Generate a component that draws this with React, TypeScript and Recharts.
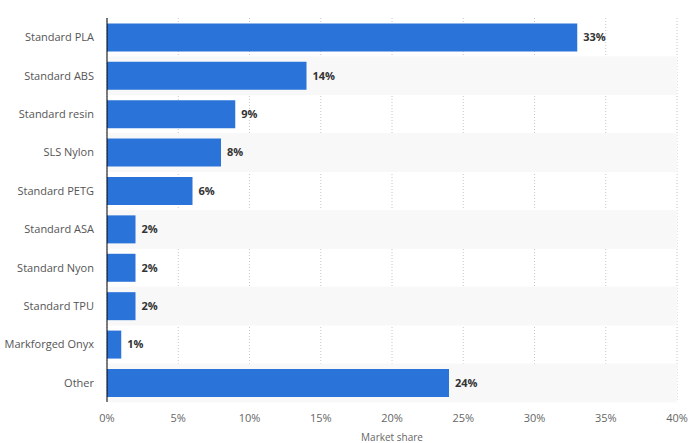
import { BarChart, Bar, XAxis, YAxis, CartesianGrid, LabelList } from "recharts";

const materials = [
  "Standard PLA",
  "Standard ABS",
  "Standard resin",
  "SLS Nylon",
  "Standard PETG",
  "Standard ASA",
  "Standard Nyon",
  "Standard TPU",
  "Markforged Onyx",
  "Other",
];
const shares = [33, 14, 9, 8, 6, 2, 2, 2, 1, 24];
const xTicks = [0, 5, 10, 15, 20, 25, 30, 35, 40];

const data = materials.map((name, i) => ({ name, share: shares[i] }));

const BAR_BLUE = "#2a73d9";
// recharts applies this gap on both sides of each bar
const GAP = 0.14;

// zebra stripe on every second row, grown from the bar's own background box to the full band
const StripeBackground = (props: any) => {
  const { x, y, width, height, index } = props;
  if (index % 2 === 0) return null;
  const pad = (height * GAP) / (1 - 2 * GAP);
  return <rect x={x} y={y - pad} width={width} height={height + pad * 2} fill="#f8f8f8" />;
};

// single-line category label (the default tick wraps long names)
const CategoryTick = (props: any) => {
  const { x, y, payload } = props;
  return (
    <text x={x} y={y} dy="0.355em" textAnchor="end" fill="#555" fontSize={11}>
      {payload.value}
    </text>
  );
};

export default function App() {
  return (
    <div style={{ position: "absolute", left: 0, top: 0, width: 690, height: 443, background: "#fff" }}>
      <BarChart
        width={690}
        height={443}
        data={data}
        layout="vertical"
        margin={{ top: 18, right: 13, left: 0, bottom: 0 }}
        barCategoryGap={`${GAP * 100}%`}
        style={{ fontFamily: "'Open Sans', sans-serif" }}
      >
        <CartesianGrid horizontal={false} stroke="#c8c8c8" strokeDasharray="1 2" />
        <XAxis
          type="number"
          domain={[0, 40]}
          ticks={xTicks}
          tickFormatter={(v) => `${v}%`}
          axisLine={false}
          tickLine={false}
          tickMargin={6}
          height={41}
          tick={{ fill: "#666", fontSize: 11 }}
          label={{ value: "Market share", position: "insideBottom", offset: 2, fill: "#666", fontSize: 10 }}
        />
        <YAxis
          type="category"
          dataKey="name"
          width={107}
          axisLine={{ stroke: "#000" }}
          tickLine={false}
          tickMargin={7}
          tick={<CategoryTick />}
        />
        <Bar dataKey="share" fill={BAR_BLUE} isAnimationActive={false} background={<StripeBackground />}>
          <LabelList
            dataKey="share"
            position="right"
            offset={6}
            formatter={(v: any) => `${v}%`}
            style={{ fill: "#333", fontSize: 11, fontWeight: 700 }}
          />
        </Bar>
      </BarChart>
    </div>
  );
}
